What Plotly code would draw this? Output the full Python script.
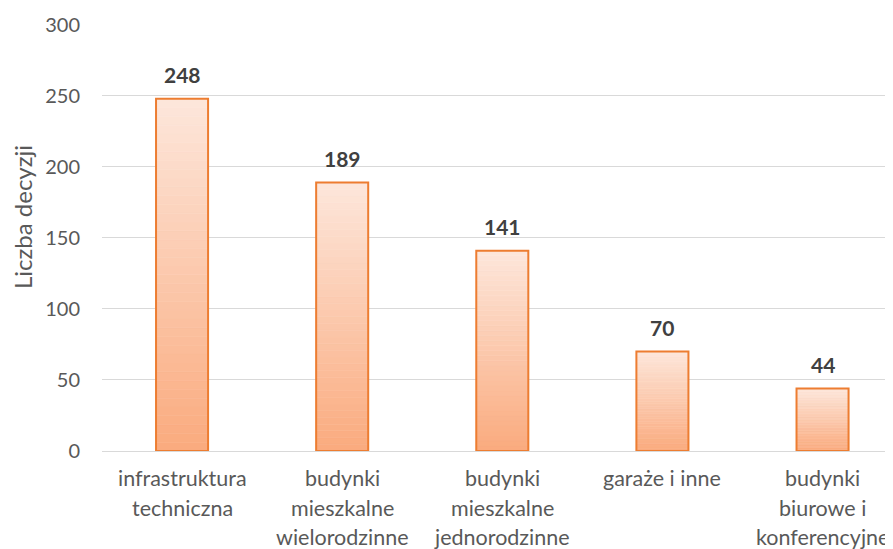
import plotly.graph_objects as go

categories = ["infrastruktura techniczna", "budynki mieszkalne wielorodzinne",
              "budynki mieszkalne jednorodzinne", "garaże i inne",
              "budynki biurowe i konferencyjne"]
label_lines = [["infrastruktura", "techniczna"],
               ["budynki", "mieszkalne", "wielorodzinne"],
               ["budynki", "mieszkalne", "jednorodzinne"],
               ["garaże i inne"],
               ["budynki", "biurowe i", "konferencyjne"]]
values = [248, 189, 141, 70, 44]
y_ticks = [0, 50, 100, 150, 200, 250, 300]
y_title = "Liczba decyzji"

FONT = "Lato, sans-serif"
top_rgb = (253, 230, 218)
bot_rgb = (250, 171, 127)
N = 40

fig = go.Figure()
# vertical gradient: each bar is split into N equal slices of its own value
for k in range(N):
    t = k / (N - 1)  # 0 bottom -> 1 top
    c = tuple(round(b + (tp - b) * t) for b, tp in zip(bot_rgb, top_rgb))
    fig.add_trace(go.Bar(
        x=categories,
        y=[v / N for v in values],
        base=[v * k / N for v in values],
        width=0.325,
        marker=dict(color="rgb(%d,%d,%d)" % c, line=dict(width=0.6, color="rgb(%d,%d,%d)" % c)),
        hoverinfo="skip", showlegend=False,
    ))
# outline
fig.add_trace(go.Bar(
    x=categories, y=values, base=[0] * len(values), width=0.325,
    marker=dict(color="rgba(0,0,0,0)", line=dict(width=2, color="#ED7D31")),
    showlegend=False,
))

for c, v in zip(categories, values):
    fig.add_annotation(x=c, y=v, text="<b>%d</b>" % v, showarrow=False,
                       yanchor="bottom", yshift=10,
                       font=dict(family=FONT, size=21, color="#404040"))

# category labels, one annotation per line (Excel-like line spacing)
for c, lines in zip(categories, label_lines):
    for i, line in enumerate(lines):
        fig.add_annotation(x=c, y=0, text=line, showarrow=False,
                           yanchor="middle", yshift=-(27 + 29.5 * i),
                           font=dict(family=FONT, size=21.5, color="#595959"))

fig.add_annotation(xref="paper", yref="paper", x=-0.1, y=0.548, text=y_title,
                   textangle=-90, showarrow=False, xanchor="center", yanchor="middle",
                   font=dict(family=FONT, size=24, color="#595959"))

fig.update_layout(
    width=893, height=549,
    barmode="overlay",
    plot_bgcolor="white", paper_bgcolor="white",
    margin=dict(l=94, r=0, t=16, b=106),
    font=dict(family=FONT, size=17, color="#595959"),
    xaxis=dict(range=[-0.5, 4.49], showgrid=False, zeroline=False,
               showline=False, showticklabels=False, ticks=""),
    yaxis=dict(range=[0, 300.6], tickvals=y_ticks, showgrid=True, gridcolor="#D9D9D9",
               gridwidth=1, zeroline=True, zerolinecolor="#D9D9D9", zerolinewidth=1,
               showline=False, ticks="outside", ticklen=0, ticklabelstandoff=17,
               tickfont=dict(family=FONT, size=20, color="#595959")),
)

fig.write_html("out.html")
